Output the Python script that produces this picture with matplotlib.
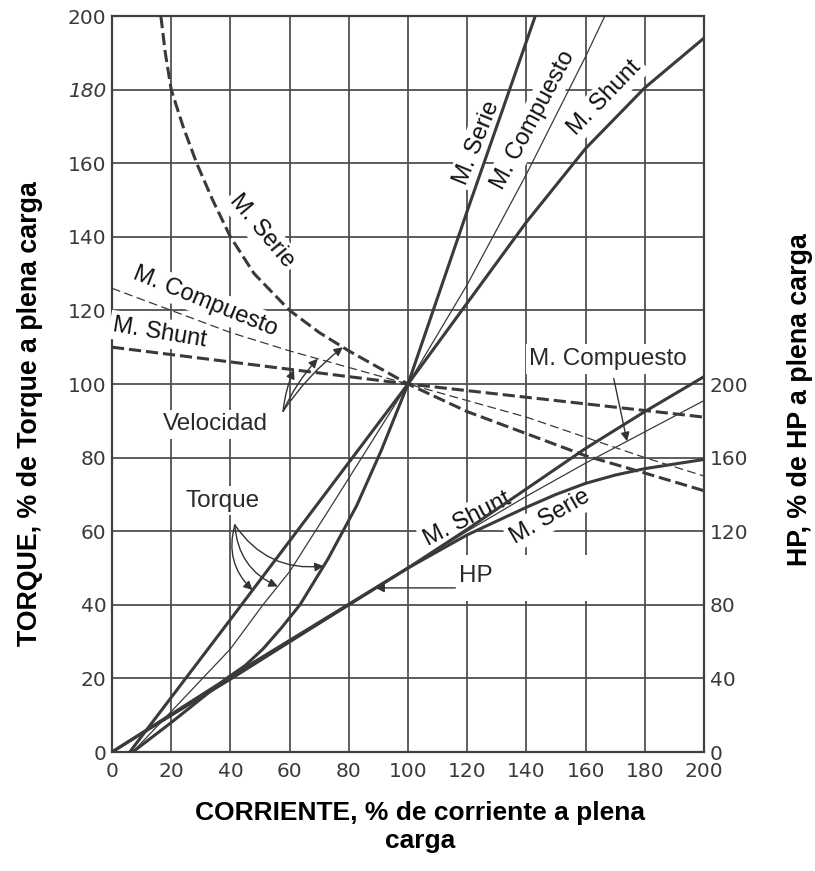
import numpy as np
import matplotlib
matplotlib.use("Agg")
import matplotlib.pyplot as plt
from matplotlib.patches import Rectangle

# Axis ticks
current_ticks = list(range(0, 201, 20))
torque_ticks = list(range(0, 201, 20))
hp_ticks = list(range(0, 201, 40))

# Speed, % of full-load speed, versus current (% of full-load current)
speed_shunt_i = [0, 50, 100, 150, 200]
speed_shunt = [110, 105, 100, 95.5, 91]
speed_comp_i = [0, 20, 40, 60, 80, 100, 120, 140, 160, 180, 200]
speed_comp = [126, 120, 114, 109, 104.5, 100, 95.5, 91, 85.5, 80, 75]
speed_series_i = [16.5, 18, 20, 24, 28.6, 34, 40, 48, 60, 70, 80, 100, 120, 140, 160, 180, 200]
speed_series = [200, 190, 180, 170, 160, 150, 140, 130, 120, 114, 109, 100, 92.5, 86.5, 80.5, 75.8, 71]

# Torque, % of full-load torque
torque_shunt_i = [6, 40, 70, 100, 120, 140, 160, 180, 200]
torque_shunt = [0, 36, 68, 100, 122, 144, 164, 180.5, 194]
torque_comp_i = [7, 20, 40, 51, 60, 75, 100, 120, 140, 160, 166.5]
torque_comp = [0, 11, 28, 40, 49, 68, 100, 127, 157, 189, 200]
torque_series_i = [7, 20, 38.7, 45, 51, 57, 63.5, 73, 82.7, 91, 100, 120, 143]
torque_series = [0, 8, 20, 23.5, 28, 33.5, 40, 52.5, 67, 82, 100, 147, 200]

# Horsepower, % of full-load HP
hp_shunt_i = [0, 40, 100, 120, 140, 160, 180, 200]
hp_shunt = [0, 41, 100, 121, 143, 165, 185, 204]
hp_comp_i = [0, 40, 100, 120, 140, 160, 180, 200]
hp_comp = [0, 39, 100, 120, 139, 157, 174, 191]
hp_series_i = [0, 40, 100, 120, 140, 150, 160, 170, 180, 200]
hp_series = [0, 40, 100, 118, 133, 140, 146, 150.5, 154, 159]

plt.rcParams['font.family'] = ['Liberation Sans', 'DejaVu Sans']

fig = plt.figure(figsize=(8.15, 8.71), dpi=100)
ax = fig.add_axes([112 / 815, 1 - 752 / 871, 592 / 815, 736 / 871])
ax.set_xlim(0, 200)
ax.set_ylim(0, 200)
ax.set_xticks(current_ticks)
ax.set_yticks(torque_ticks)
ax.grid(True, color='#505050', lw=1.3)
ax.set_axisbelow(True)
for s in ax.spines.values():
    s.set_color('#404040')
    s.set_linewidth(1.6)
tick_font = 14.5
ax.tick_params(axis='both', length=0, labelsize=tick_font, labelcolor='#3a3a3a')
ax.tick_params(axis='x', pad=7)
ax.tick_params(axis='y', pad=4)
for lbl in ax.get_xticklabels() + ax.get_yticklabels():
    lbl.set_fontfamily('DejaVu Sans')
for lbl in ax.get_yticklabels():
    if lbl.get_text() == '180':
        lbl.set_fontstyle('italic')

ax2 = ax.twinx()
ax2.set_ylim(0, 400)
ax2.set_yticks(hp_ticks)
ax2.tick_params(axis='y', length=0, labelsize=tick_font, labelcolor='#3a3a3a', pad=4)
for lbl in ax2.get_yticklabels():
    lbl.set_fontfamily('DejaVu Sans')
for s in ax2.spines.values():
    s.set_visible(False)

col = '#3a3a3a'
thick = dict(color=col, lw=2.2, zorder=4)
thin = dict(color=col, lw=0.9, zorder=4)

# speed curves (dashed)
ax.plot(speed_shunt_i, speed_shunt, linestyle=(0, (4, 1.6)), **thick)
ax.plot(speed_comp_i, speed_comp, linestyle=(0, (7, 3.5)), **thin)
ax.plot(speed_series_i, speed_series, linestyle=(0, (4, 1.6)), **thick)

# torque curves
ax.plot(torque_shunt_i, torque_shunt, **thick)
ax.plot(torque_comp_i, torque_comp, **thin)
ax.plot(torque_series_i, torque_series, **thick)

# horsepower curves on the right-hand scale
ax2.plot(hp_shunt_i, hp_shunt, **thick)
ax2.plot(hp_comp_i, hp_comp, **thin)
ax2.plot(hp_series_i, hp_series, **thick)

box = dict(boxstyle='square,pad=0.15', fc='white', ec='none')
rot_lab = dict(fontsize=17, color='#111111', ha='center', va='center',
               rotation_mode='anchor', bbox=box, zorder=3)
flat_lab = dict(fontsize=17.5, color='#2a2a2a', ha='center', va='center',
                bbox=box, zorder=3)

# speed labels
ax.text(50.5, 141.5, 'M. Serie', rotation=-50, **rot_lab)
ax.text(31.4, 122.4, 'M. Compuesto', rotation=-22, **rot_lab)
ax.text(16.2, 114.0, 'M. Shunt', rotation=-9.5, **rot_lab)
ax.text(35.0, 89.0, 'Velocidad', **flat_lab)

# torque labels
ax.text(37.2, 68.3, 'Torque', **flat_lab)
ax.text(123.3, 165.6, 'M. Serie', rotation=68, **rot_lab)
ax.text(142.3, 171.8, 'M. Compuesto', rotation=62, **rot_lab)
ax.text(166.5, 177.9, 'M. Shunt', rotation=46, **rot_lab)

# horsepower labels
ax2.add_patch(Rectangle((116, 82), 56, 25, fc='white', ec='none', zorder=2))
ax2.text(120, 126.8, 'M. Shunt', rotation=27, **rot_lab)
ax2.text(148, 128.0, 'M. Serie', rotation=30, **rot_lab)
ax2.text(123, 95.6, 'HP', **flat_lab)
ax2.text(167.6, 213.6, 'M. Compuesto', **flat_lab)

arr = dict(arrowstyle='-|>', color='#333333', lw=1.0, mutation_scale=13,
           shrinkA=0, shrinkB=0)

# arrows from "Velocidad" to the speed curves
for xt, xs, ys in [(61.5, speed_shunt_i, speed_shunt),
                   (69.5, speed_comp_i, speed_comp),
                   (78.0, speed_series_i, speed_series)]:
    ax.annotate('', xy=(xt, np.interp(xt, xs, ys)), xytext=(57.8, 92.6),
                arrowprops=dict(connectionstyle='arc3,rad=-0.08', **arr), zorder=5)

# arrows from "Torque" to the torque curves
for xt, xs, ys, rad in [(47.5, torque_shunt_i, torque_shunt, 0.3),
                        (56.0, torque_comp_i, torque_comp, 0.3),
                        (71.5, torque_series_i, torque_series, 0.3)]:
    ax.annotate('', xy=(xt, np.interp(xt, xs, ys)), xytext=(41.5, 61.7),
                arrowprops=dict(connectionstyle=f'arc3,rad={rad}', **arr), zorder=5)

# HP pointer
yt = np.interp(89, hp_shunt_i, hp_shunt)
ax2.annotate('', xy=(89, yt), xytext=(116, yt),
             arrowprops=dict(connectionstyle='arc3,rad=0', **arr), zorder=5)
ax2.annotate('', xy=(174, np.interp(174, hp_comp_i, hp_comp)), xytext=(169.5, 203),
             arrowprops=dict(connectionstyle='arc3,rad=0', **arr), zorder=5)

# axis titles
fig.text(30 / 815, 1 - 414 / 871, 'TORQUE, % de Torque a plena carga',
         rotation=90, ha='center', va='center', fontsize=19.3, fontweight='bold')
fig.text(800 / 815, 1 - 400 / 871, 'HP, % de HP a plena carga',
         rotation=90, ha='center', va='center', fontsize=19.3, fontweight='bold')
fig.text(420 / 815, 1 - 801 / 871, 'CORRIENTE, % de corriente a plena\ncarga',
         ha='center', va='top', fontsize=19, fontweight='bold',
         multialignment='center', linespacing=1.2)

fig.savefig('out.png', dpi=100)
